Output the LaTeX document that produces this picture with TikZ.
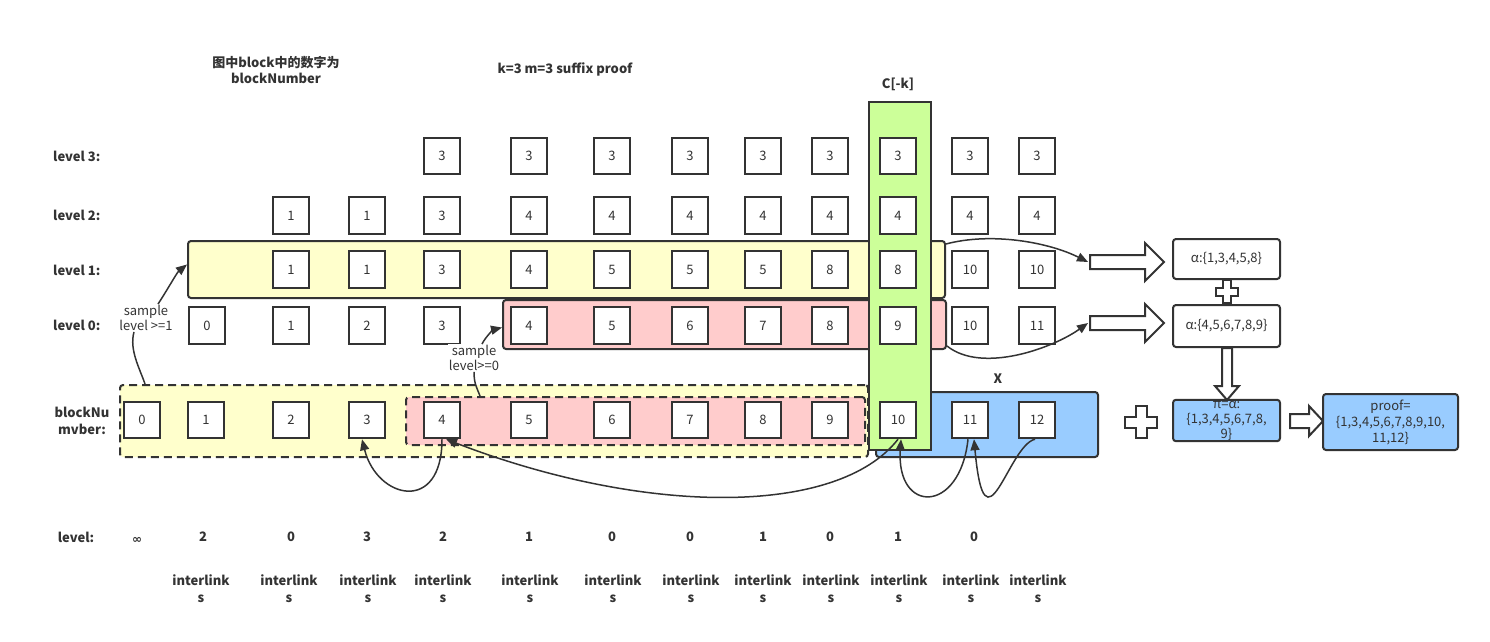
\documentclass[tikz,border=0pt]{standalone}
\usepackage{fontspec}
\setmainfont{Noto Sans CJK SC}
\newfontfamily\cjk{Noto Sans CJK SC}
\newfontfamily\dejavu{DejaVu Sans}
\usetikzlibrary{arrows.meta}
\definecolor{ink}{HTML}{333333}
\definecolor{yel}{HTML}{FFFFCC}
\definecolor{pnk}{HTML}{FFCCCC}
\definecolor{grn}{HTML}{CCFF99}
\definecolor{blu}{HTML}{99CCFF}
\tikzset{
  every node/.append style={text=ink},
  blk/.style={draw=ink, line width=2pt, fill=white, minimum width=36.5pt, minimum height=36.5pt, inner sep=0pt, font=\fontsize{13}{15}\selectfont},
  lbl/.style={font=\bfseries\fontsize{13}{16}\selectfont, inner sep=0pt},
  sml/.style={font=\fontsize{13}{15}\selectfont, align=center, inner sep=1pt},
  region/.style={draw=ink, line width=2pt, rounded corners=3pt, inner sep=0pt, anchor=north west},
  dashedregion/.style={region, dash pattern=on 8pt off 5pt},
  rbox/.style={draw=ink, line width=2pt, rounded corners=3pt, inner sep=1pt, align=center, font=\fontsize{13}{15}\selectfont},
  conn/.style={draw=ink, line width=1.5pt, -{Triangle[length=11pt,width=9pt]}},
  plain/.style={draw=ink, line width=1.5pt},
  hollow/.style={draw=ink, line width=2pt, fill=white, line join=miter},
}
\begin{document}
\begin{tikzpicture}[x=1pt,y=-1pt]
\useasboundingbox (0,0) rectangle (1490,642);
\fill[white] (0,0) rectangle (1490,642);

% titles
\node[lbl, align=center, font=\cjk\bfseries\fontsize{13}{16}\selectfont] (title) at (276,70) {图中block中的数字为\\blockNumber};
\node[lbl] (sub) at (565,69) {k=3 m=3 suffix proof};
\node[lbl] (cklbl) at (898,84) {C[-k]};
\node[lbl] (xlbl) at (998,379) {X};

% row labels
\node[lbl, anchor=west] (lab3) at (53,156) {level 3:};
\node[lbl, anchor=west] (lab2) at (53,215) {level 2:};
\node[lbl, anchor=west] (lab1) at (53,270) {level 1:};
\node[lbl, anchor=west] (lab0) at (53,325) {level 0:};
\node[lbl, align=center, font=\bfseries\fontsize{13}{17}\selectfont] (labb) at (82,421) {blockNu\\mvber:};

% regions
\node[region, fill=yel, minimum width=757pt, minimum height=57pt] (yl) at (187,240) {};
\node[region, fill=pnk, minimum width=443pt, minimum height=49pt] (rl) at (502,299) {};
\node[dashedregion, fill=yel, minimum width=748pt, minimum height=72pt] (ydash) at (119,384) {};
\node[dashedregion, fill=pnk, minimum width=459pt, minimum height=48pt] (rdash) at (405,396) {};
\node[region, fill=blu, minimum width=222pt, minimum height=65pt] (bluebox) at (875,391) {};
\node[draw=ink, fill=grn, line width=2pt, minimum width=62pt, minimum height=348pt, anchor=north west, inner sep=0pt] (ck) at (868,101) {};

% blocks
\foreach \x/\t [count=\i] in {442/3,529/3,612/3,690/3,763/3,830/3,898/3,970/3,1037/3}
  \node[blk] (l3-\i) at (\x,156) {\t};
\foreach \x/\t [count=\i] in {291/1,367/1,442/3,529/4,612/4,690/4,763/4,830/4,898/4,970/4,1037/4}
  \node[blk] (l2-\i) at (\x,215.5) {\t};
\foreach \x/\t [count=\i] in {291/1,367/1,442/3,529/4,612/5,690/5,763/5,830/8,898/8,970/10,1037/10}
  \node[blk] (l1-\i) at (\x,269.5) {\t};
\foreach \x/\t [count=\i] in {207/0,291/1,367/2,442/3,529/4,612/5,690/6,763/7,830/8,898/9,970/10,1037/11}
  \node[blk] (l0-\i) at (\x,325.5) {\t};
\foreach \x/\t in {142/0,206/1,291/2,367/3,442/4,529/5,612/6,690/7,763/8,830/9,898/10,970/11,1037/12}
  \node[blk] (b\t) at (\x,420) {\t};

% sample labels
\node[sml] (s1) at (146,318) {sample\\level >=1};
\node[sml, fill=white] (s2) at (474,358) {sample\\level>=0};
\draw[conn] ([xshift=12pt]s1.north) .. controls +(8,-12) and +(-10,8) .. ([yshift=5pt]yl.west);
\draw[plain] ([xshift=-12pt]s1.south) .. controls +(-5,18) and +(-5,-15) .. ([xshift=26pt]ydash.north west);
\draw[conn] ([xshift=8pt]s2.north) .. controls +(4,-8) and +(-8,2) .. ([yshift=-3pt]rl.west);
\draw[plain] (s2.south) .. controls +(0,12) and +(-3,-8) .. ([xshift=75pt]rdash.north west);

% right side shapes
\coordinate (a1) at (1088,262);
\coordinate (a2) at (1088,323);
\draw[hollow] (1090,255)--(1145,255)--(1145,243)--(1164,262)--(1145,281)--(1145,269)--(1090,269)--cycle;
\draw[hollow] (1090,316)--(1145,316)--(1145,304)--(1164,323)--(1145,342)--(1145,330)--(1090,330)--cycle;
\node[rbox, fill=white, minimum width=107pt, minimum height=40pt] (al1) at (1226.5,259) {α:\{1,3,4,5,8\}};
\node[rbox, fill=white, minimum width=107pt, minimum height=42pt] (al2) at (1226.5,326) {α:\{4,5,6,7,8,9\}};
\draw[hollow] (1223,280)--(1231,280)--(1231,287.5)--(1238,287.5)--(1238,295.5)--(1231,295.5)--(1231,303)--(1223,303)--(1223,295.5)--(1216,295.5)--(1216,287.5)--(1223,287.5)--cycle;
\draw[hollow] (1222,348)--(1232,348)--(1232,386)--(1239,386)--(1227,400)--(1215,386)--(1222,386)--cycle;
\node[rbox, fill=blu, minimum width=107pt, minimum height=41pt, font=\fontsize{13}{15}\selectfont] (pi) at (1226.5,420.5) {π=α:\\\{1,3,4,5,6,7,8,\\9\}};
\draw[hollow] (1135.5,406)--(1146.5,406)--(1146.5,416.5)--(1157,416.5)--(1157,427.5)--(1146.5,427.5)--(1146.5,438)--(1135.5,438)--(1135.5,427.5)--(1125,427.5)--(1125,416.5)--(1135.5,416.5)--cycle;
\draw[hollow] (1290,414)--(1309,414)--(1309,406)--(1323,421)--(1309,436)--(1309,428)--(1290,428)--cycle;
\node[rbox, fill=blu, minimum width=135pt, minimum height=56pt, font=\fontsize{13}{16}\selectfont] (proof) at (1390.5,422) {proof=\\\{1,3,4,5,6,7,8,9,10,\\11,12\}};

% connectors to right arrows
\draw[conn] ([yshift=-4pt]yl.north east) .. controls +(45,-12) and +(-40,-20) .. (a1);
\draw[conn] ([yshift=4pt]rl.south east) .. controls +(35,28) and +(-35,25) .. (a2);

% bottom interlink curves
\draw[conn] (b4.south) .. controls +(0,75) and +(15,60) .. ([xshift=-5pt]b3.south);
\draw[conn] (b10.south) .. controls +(-60,77) and +(200,77) .. ([xshift=4pt]b4.south);
\draw[conn] ([xshift=-2pt]b11.south) .. controls +(-8,75) and +(-5,75) .. ([xshift=3pt]b10.south);
\draw[conn] ([xshift=-2pt]b12.south) .. controls +(-27,6) and +(11,120) .. ([xshift=4pt]b11.south);

% level row
\node[lbl] (lvl) at (76,537) {level:};
\foreach \x/\t [count=\i] in {203/2,291/0,367/3,443/2,529/1,612/0,690/0,763/1,830/0,898/1,974/0}
  \node[lbl] (lv-\i) at (\x,537) {\t};
\node[font=\dejavu\bfseries\fontsize{12}{14}\selectfont, inner sep=0pt] (inf) at (137,540) {∞};

% interlinks row
\foreach \x [count=\i] in {201,289,368,443,530,613,691,763,831,899,971,1038}
  \node[lbl, align=center, font=\bfseries\fontsize{13}{17}\selectfont] (il-\i) at (\x,589) {interlink\\s};
\end{tikzpicture}
\end{document}
